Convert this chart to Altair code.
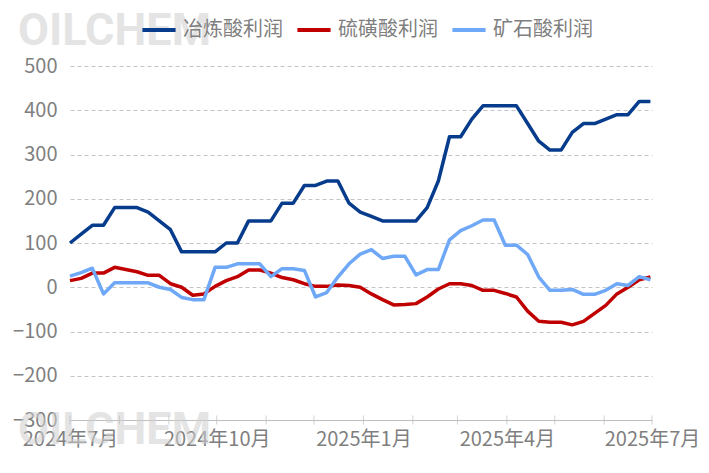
import altair as alt
import pandas as pd

# ---- data ----
series_names = ["冶炼酸利润", "硫磺酸利润", "矿石酸利润"]
series_colors = ["#073C8C", "#C00000", "#6EA8F7"]

start_date = "2024-07-01"
n_weeks = 53

smelting = [100, 120, 140, 140, 180, 180, 180, 170, 150, 130, 80, 80, 80, 80, 100, 100,
            150, 150, 150, 190, 190, 230, 230, 240, 240, 190, 170, 160, 150, 150, 150, 150,
            180, 240, 340, 340, 380, 410, 410, 410, 410, 370, 330, 310, 310, 350, 370, 370,
            380, 390, 390, 420, 420]
sulfur = [15, 20, 32, 32, 45, 40, 35, 27, 27, 8, 0, -18, -15, 2, 15, 24, 39, 39, 32, 22,
          17, 8, 2, 2, 5, 4, 0, -15, -28, -40, -39, -37, -22, -4, 8, 8, 4, -7, -7, -14,
          -22, -54, -77, -79, -79, -85, -77, -59, -41, -15, 0, 17, 23]
ore = [25, 33, 43, -15, 10, 10, 10, 10, 0, -5, -23, -28, -28, 45, 45, 53, 53, 53, 24, 42,
       42, 38, -22, -12, 23, 53, 75, 85, 65, 70, 70, 28, 40, 40, 107, 128, 139, 152, 152,
       95, 95, 74, 23, -7, -7, -5, -16, -16, -7, 8, 4, 24, 17]

y_ticks = [-300, -200, -100, 0, 100, 200, 300, 400, 500]
month_ticks = ["2024-07-01", "2024-08-01", "2024-09-01", "2024-10-01", "2024-11-01",
               "2024-12-01", "2025-01-01", "2025-02-01", "2025-03-01", "2025-04-01",
               "2025-05-01", "2025-06-01", "2025-07-01"]
label_months = [(2024, 7), (2024, 10), (2025, 1), (2025, 4), (2025, 7)]
watermark = "OILCHEM"

# ---- build tables ----
dates = pd.date_range(start_date, periods=n_weeks, freq="7D").strftime("%Y-%m-%dT00:00:00")
rows = []
for name, vals in zip(series_names, [smelting, sulfur, ore]):
    for d, v in zip(dates, vals):
        rows.append({"date": d, "value": v, "series": name})
df = pd.DataFrame(rows)
ticks_df = pd.DataFrame({"date": [m + "T00:00:00" for m in month_ticks], "value": -300})

FONT = "Noto Sans CJK SC"
GREY = "#7f7f7f"

x_scale = alt.Scale(domain=[alt.DateTime(year=2024, month=7, date=1),
                            alt.DateTime(year=2025, month=7, date=1)])
y_scale = alt.Scale(domain=[-300, 500], nice=False)

lines = alt.Chart(df).mark_line(strokeWidth=3.5, strokeJoin="round").encode(
    x=alt.X("date:T", scale=x_scale, title=None,
            axis=alt.Axis(values=[alt.DateTime(year=y, month=m, date=1) for y, m in label_months],
                          labelExpr="year(datum.value) + '年' + (month(datum.value) + 1) + '月'",
                          grid=False, ticks=False, domainColor="#bfbfbf", domainWidth=1,
                          labelPadding=9, labelFontSize=20, labelColor=GREY, labelFont=FONT,
                          labelFlush=False)),
    y=alt.Y("value:Q", scale=y_scale, title=None,
            axis=alt.Axis(values=y_ticks, domain=False, ticks=False, grid=True,
                          gridColor="#c4c4c4", gridDash=[4, 3], gridWidth=1,
                          labelPadding=13, labelFontSize=20, labelColor=GREY, labelFont=FONT)),
    color=alt.Color("series:N", sort=series_names,
                    scale=alt.Scale(domain=series_names, range=series_colors),
                    legend=alt.Legend(title=None, orient="none", direction="horizontal",
                                      legendX=70, legendY=-55, symbolType="stroke",
                                      symbolSize=1100, symbolStrokeWidth=4,
                                      labelFontSize=20, labelColor=GREY, labelFont=FONT,
                                      labelOffset=5, columnPadding=6, padding=0)),
    order=alt.Order("series:N"),
)

tick_marks = alt.Chart(ticks_df).mark_tick(orient="vertical", size=9, thickness=1,
                                          color="#bfbfbf").encode(
    x=alt.X("date:T", scale=x_scale),
    y=alt.Y("value:Q", scale=y_scale),
)

wm_data = alt.Data(values=[{"t": watermark}])
wm_style = dict(font="Roboto", fontSize=45, fontWeight="bold", color="#cfcfcf",
                opacity=0.55, align="left", baseline="alphabetic")
wm_top = alt.Chart(wm_data).mark_text(**wm_style).encode(
    text="t:N", x=alt.value(-52), y=alt.value(-21))
wm_bottom = alt.Chart(wm_data).mark_text(**wm_style).encode(
    text="t:N", x=alt.value(-52), y=alt.value(378))

chart = alt.layer(wm_top, wm_bottom, tick_marks, lines).properties(
    width=582, height=354,
    autosize=alt.AutoSizeParams(type="none"),
    padding={"left": 62, "top": 58, "right": 49, "bottom": 45},
).configure_view(stroke=None)

chart.save("out.html", embed_options={"renderer": "svg", "actions": False})
